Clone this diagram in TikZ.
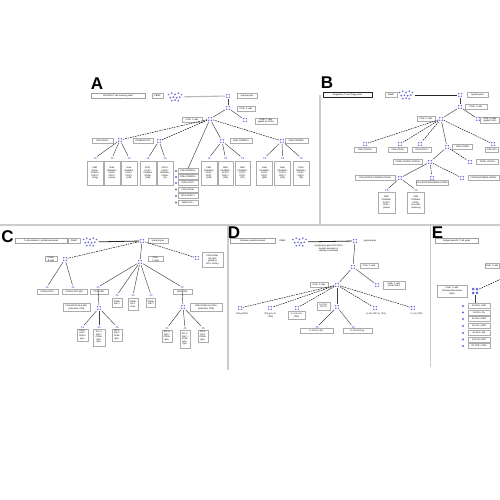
\documentclass[tikz,border=0pt]{standalone}
\usepackage{fontspec}
\setmainfont{Liberation Sans}
\definecolor{dotc}{RGB}{105,105,215}
\begin{document}
\begin{tikzpicture}[x=1pt,y=-1pt,
 lbl/.style={draw=gray!65, fill=white, line width=0.3pt, inner sep=0.4pt, font=\fontsize{2.2}{2.6}\selectfont, align=center, minimum height=4.8pt},
 plain/.style={inner sep=0.3pt, font=\fontsize{2.2}{2.6}\selectfont, align=center},
 tbox/.style={lbl, draw=gray!75, line width=0.35pt},
 tboxb/.style={lbl, draw=black!85, line width=0.5pt},
 cbox/.style={lbl, anchor=north},
 cellnode/.style={rectangle, minimum size=5.4pt, inner sep=0pt, path picture={\foreach \dx/\dy in {-1.3/-1.3,1.3/-1.3,-1.3/1.3,1.3/1.3} \fill[dotc] ([shift={(\dx,\dy)}]path picture bounding box.center) circle (0.8pt);}},
 minicell/.style={rectangle, minimum size=3.6pt, inner sep=0pt, path picture={\foreach \dx/\dy in {-0.85/0,0.85/0} \fill[dotc] ([shift={(\dx,\dy)}]path picture bounding box.center) circle (0.65pt);}},
 bigcell/.style={rectangle, minimum size=8pt, inner sep=0pt, path picture={\foreach \dx/\dy in {-1.9/-1.9,1.9/-1.9,-1.9/1.9,1.9/1.9} \fill[dotc] ([shift={(\dx,\dy)}]path picture bounding box.center) circle (1.5pt);}},
 listdot/.style={circle, fill=dotc, minimum size=2.4pt, inner sep=0pt},
 cluster/.style={rectangle, minimum width=17pt, minimum height=11pt, inner sep=0pt, path picture={\foreach \dx/\dy in {-6.5/-2.5,-3.3/-3.8,0/-2.6,3.3/-3.8,6.5/-2.5,-4.8/0.6,-1.6/0.2,1.6/0.8,4.8/0.2,-3.2/3.7,0/3.2,3.2/3.8} \fill[dotc] ([shift={(\dx,\dy)}]path picture bounding box.center) circle (0.95pt);}},
 link/.style={draw=black!75, line width=0.45pt},
 dlink/.style={draw=black, line width=0.45pt, dash pattern=on 1.6pt off 0.9pt},
 feedg/.style={draw=gray!55, line width=1.1pt},
 feedk/.style={draw=black!85, line width=0.8pt},
 panelline/.style={draw=gray!40, line width=1.2pt},
 letter/.style={font=\fontsize{17}{17}\bfseries\selectfont, inner sep=0pt}
]
\useasboundingbox (0,0) rectangle (500,500);
\fill[white] (0,0) rectangle (500,500);
% panel dividers
\draw[panelline] (0,225) -- (500,225);
\draw[panelline] (320,95) -- (320,225);
\draw[panelline] (228,225) -- (228,370);
\draw[panelline] (430.5,225) -- (430.5,367);

% ================= Panel A =================
\node[letter] (LA) at (97,84) {A};
\node[tbox, minimum width=54pt] (tA) at (118,96) {CD4/CD8 T cell memory panel};
\node[lbl, minimum width=11pt] (pA) at (157.5,96) {PBMC};
\node[cluster] (clA) at (175,97) {};
\node[cellnode] (a1) at (228,96) {};
\node[lbl, minimum width=20pt] (la1) at (247,96) {lymphocytes};
\node[cellnode] (a2) at (228,108) {};
\node[lbl, minimum width=18pt] (la2) at (246,108.5) {CD3+ T cells};
\node[cellnode] (a3) at (210,119) {};
\node[lbl, minimum width=20pt] (la3) at (192,119.5) {CD4+ T cells};
\node[cellnode] (a4) at (245,120) {};
\node[lbl, minimum width=22pt] (la4) at (266,121) {CD8+ T cells\\(gated as CD3+)};
\node[cellnode] (a5) at (120,140) {};
\node[lbl, minimum width=21pt] (la5) at (102.5,141) {CD4+CD25+};
\node[cellnode] (a6) at (159,141) {};
\node[lbl, minimum width=20pt] (la6) at (143,141) {CD45RA/CCR7};
\node[cellnode] (a7) at (222,141) {};
\node[lbl, minimum width=22pt] (la7) at (241,141) {CD4+CD45RO+};
\node[cellnode] (a8) at (282,141) {};
\node[lbl, minimum width=23pt] (la8) at (296.5,141) {CD8+CD45RO+};
\draw[feedg] (clA) -- (a1);
\draw[link] (a1) -- (a2);
\draw[link] (a2) -- (a3);
\draw[link] (a2) -- (a4);
\draw[dlink] (a3) -- (a5);
\draw[dlink] (a3) -- (a6);
\draw[link] (a3) -- (a7);
\draw[dlink] (a3) -- (a8);
% children of a5
\foreach \n/\x/\t in {a51/95/{FMO\\CD25+\\FOXP3+\\CD127-\\(Treg)}, a52/112/{Gate\\CD45RA+\\CCR7+\\CD27+\\(naive)}, a53/129/{Gate\\CD45RA-\\CCR7+\\CD27+\\(CM)}} {
  \node[minicell] (\n) at (\x,158) {};
  \node[cbox, minimum width=15.5pt, minimum height=24pt] (b\n) at (\x,161) {\t};
  \draw[link] (a5) -- (\n);
}
\foreach \n/\x/\t in {a61/148/{CD27-\\CCR7-\\CD45RA-\\CD28+\\(EM)}, a62/165/{CD27+\\CCR7+\\CD45RA+\\CD28+\\(N)}} {
  \node[minicell] (\n) at (\x,158) {};
  \node[cbox, minimum width=15.5pt, minimum height=24pt] (b\n) at (\x,161) {\t};
  \draw[link] (a6) -- (\n);
}
\foreach \n/\x/\t in {a71/209/{FMO\\CD45RO+\\CCR7-\\CD27-\\(EM)}, a72/225.5/{FMO\\CD45RO+\\CCR7+\\CD27+\\(CM)}, a73/242.5/{FMO\\CD45RA+\\CCR7-\\CD27-\\(TE)}} {
  \node[minicell] (\n) at (\x,158) {};
  \node[cbox, minimum width=15.5pt, minimum height=24pt] (b\n) at (\x,161) {\t};
  \draw[link] (a7) -- (\n);
}
\foreach \n/\x/\t in {a81/264.5/{Gate\\CD45RO+\\CCR7-\\CD27-\\(EM)}, a82/282.5/{Gate\\CD45RO+\\CCR7+\\CD27+\\(CM)}, a83/301/{CD8+\\CD45RA+\\CCR7-\\CD57+\\(TE)}} {
  \node[minicell] (\n) at (\x,158) {};
  \node[cbox, minimum width=16pt, minimum height=24pt] (b\n) at (\x,161) {\t};
  \draw[link] (a8) -- (\n);
}
% list
\foreach \i/\y/\t in {1/171/CD8+CD45RA+, 2/177/CD8+CD45RO+, 3/183/CD8+CCR7+, 4/189.5/CD4+CD28+, 5/196/CD4+CD127+, 6/202.5/CD8+PD-1+} {
  \node[listdot] (ad\i) at (176,\y) {};
  \node[lbl, minimum width=20pt] (al\i) at (188,\y) {\t};
}
\draw[link] (a3) -- (al1.north);

% ================= Panel B =================
\node[letter] (LB) at (327,83) {B};
\node[tboxb, minimum width=49pt] (tB) at (347.5,95) {Regulatory T cell (Treg) panel};
\node[lbl, minimum width=12pt] (pB) at (391,95) {PBMC};
\node[cluster] (clB) at (406,95) {};
\node[cellnode] (b1) at (460,95) {};
\node[lbl, minimum width=21pt] (lb1) at (477.5,95) {lymphocytes};
\node[cellnode] (b2) at (460,107) {};
\node[lbl, minimum width=22pt] (lb2) at (476,107) {CD3+ T cells};
\node[cellnode] (b3) at (441,119) {};
\node[lbl, minimum width=18pt] (lb3) at (426,119) {CD4+ T cells};
\node[cellnode] (b4) at (478,119) {};
\node[lbl, minimum width=19pt] (lb4) at (490,120) {CD8+ T cells\\(gated CD4-)};
\node[cellnode] (b5) at (365,144) {};
\node[lbl, minimum width=22pt] (lb5) at (365,150) {CD4+FOXP3+};
\node[cellnode] (b6) at (400,144) {};
\node[lbl, minimum width=19pt] (lb6) at (398,150) {CD4+CD25+};
\node[cellnode] (b7) at (420,144) {};
\node[lbl, minimum width=19pt] (lb7) at (422,150) {CD4+CD127-};
\node[cellnode] (b8) at (447,147) {};
\node[lbl, minimum width=20pt] (lb8) at (462.5,146.5) {CD4+CD25hi};
\node[cellnode] (b9) at (493,144) {};
\node[lbl, minimum width=13pt] (lb9) at (492,150) {CD4+DR+};
\node[cellnode] (b10) at (430,162) {};
\node[lbl, minimum width=29pt] (lb10) at (408,162) {CD25+CD127lo FOXP3+};
\node[cellnode] (b11) at (470,162) {};
\node[lbl, minimum width=22pt] (lb11) at (487.5,162) {CD25+ FOXP3-};
\node[cellnode] (b12) at (400,178) {};
\node[lbl, minimum width=40pt] (lb12) at (375,178) {CD4+FOXP3+CD45RA+CD25lo};
\node[cellnode] (b13) at (432,178) {};
\node[lbl, minimum width=31pt] (lb13) at (432,183) {CD4+FOXP3hiCD45RA-CD25hi};
\node[cellnode] (b14) at (462,178) {};
\node[lbl, minimum width=31pt] (lb14) at (483.5,178) {FOXP3loCD45RA-CD25lo};
\node[minicell] (b15) at (386.5,190) {};
\node[cbox, minimum width=17pt, minimum height=21pt] (lb15) at (386.5,192) {FMO\\CD45RA+\\CCR7+\\CD31+\\(naive)};
\node[minicell] (b16) at (416,190) {};
\node[cbox, minimum width=17pt, minimum height=21pt] (lb16) at (416,192) {FMO\\CD45RA-\\CCR7+\\HLA-DR+\\(memory)};
\draw[feedk] (clB) -- (b1);
\draw[link] (b1) -- (b2);
\draw[link] (b2) -- (b3);
\draw[link] (b2) -- (b4);
\draw[dlink] (b3) -- (b5);
\draw[dlink] (b3) -- (b6);
\draw[dlink] (b3) -- (b7);
\draw[link] (b3) -- (b8);
\draw[dlink] (b3) -- (b9);
\draw[link] (b8) -- (b10);
\draw[dlink] (b8) -- (b11);
\draw[link] (b10) -- (b12);
\draw[dlink] (b10) -- (b13);
\draw[dlink] (b10) -- (b14);
\draw[link] (b12) -- (b15);
\draw[link] (b12) -- (b16);

% ================= Panel C =================
\node[letter] (LC) at (7.5,236.5) {C};
\node[tbox, minimum width=52pt] (tC) at (41,240.5) {T cell activation / proliferation panel};
\node[lbl, minimum width=12pt] (pC) at (74,240.5) {PBMC};
\node[cluster] (clC) at (90,242) {};
\node[cellnode] (c1) at (142,241) {};
\node[lbl, minimum width=20pt] (lc1) at (158,241) {lymphocytes};
\node[cellnode] (c2) at (65,259) {};
\node[lbl, minimum width=12pt] (lc2) at (51,259) {CD19+\\B cells};
\node[cellnode] (c3) at (140,262) {};
\node[lbl, minimum width=15pt] (lc3) at (155.5,259) {CD3+\\T cells};
\node[cellnode] (c4) at (197,258) {};
\node[lbl, minimum width=21pt, minimum height=15pt] (lc4) at (212.5,260) {CD3-CD56+\\NK cells\\(gated on\\CD3- CD19-)};
\node[minicell] (c5) at (47,287) {};
\node[lbl, minimum width=21pt] (lc5) at (47.5,291.5) {CD19+CD27+};
\node[minicell] (c6) at (73,287) {};
\node[lbl, minimum width=25pt] (lc6) at (74.5,291.5) {CD19+CD27-IgD+};
\node[minicell] (c7) at (98,287) {};
\node[lbl, minimum width=18pt] (lc7) at (99,291.5) {CD4+CD8-};
\node[minicell] (c8) at (117,295) {};
\node[cbox, minimum width=10pt, minimum height=9pt] (lc8) at (117,298) {CD38+\\Ki67+};
\node[minicell] (c9) at (133,295) {};
\node[cbox, minimum width=10pt, minimum height=12pt] (lc9) at (133,298) {CD38+\\Ki67-\\HLA+};
\node[minicell] (c10) at (151,295) {};
\node[cbox, minimum width=9pt, minimum height=9pt] (lc10) at (151,298) {CD69+\\Ki67+};
\node[minicell] (c11) at (182,287) {};
\node[lbl, minimum width=19pt] (lc11) at (182.5,292) {CD8+CD4-};
\node[cellnode] (c12) at (99,308) {};
\node[lbl, minimum width=27pt, minimum height=8pt] (lc12) at (76.5,307.5) {CD4+CD38+HLA-DR+\\(activated, CD4)};
\node[minicell] (c13) at (82.5,327) {};
\node[cbox, minimum width=11pt, minimum height=12pt] (lc13) at (82.5,328.5) {PD-1+\\Ki67+\\CD25+\\IgG+};
\node[minicell] (c14) at (99,327) {};
\node[cbox, minimum width=12pt, minimum height=17pt] (lc14) at (99,328.5) {PD-1+\\Ki67+\\CD25+\\IgG+\\IgA+};
\node[minicell] (c15) at (117,327) {};
\node[cbox, minimum width=10pt, minimum height=12pt] (lc15) at (117,328.5) {PD-1-\\Ki67+\\CD25-\\IgG+};
\node[cellnode] (c16) at (183,307) {};
\node[lbl, minimum width=32pt, minimum height=8pt] (lc16) at (206,307.5) {CD8+CD38+HLA-DR+\\(activated, CD8)};
\node[minicell] (c17) at (167,328) {};
\node[cbox, minimum width=10pt, minimum height=12pt] (lc17) at (167,330) {PD-1+\\Ki67+\\CD25+\\IgG+};
\node[minicell] (c18) at (185,328) {};
\node[cbox, minimum width=10pt, minimum height=18pt] (lc18) at (185,330) {PD-1+\\Ki67+\\CD25-\\IgG+\\IgA+};
\node[minicell] (c19) at (203,328) {};
\node[cbox, minimum width=10pt, minimum height=12pt] (lc19) at (203,330) {PD-1-\\Ki67-\\CD25+\\IgG+};
\draw[feedk] (clC) -- (c1);
\draw[dlink] (c1) -- (c2);
\draw[link] (c1) -- (c3);
\draw[dlink] (c1) -- (c4);
\draw[link] (c2) -- (c5);
\draw[link] (c2) -- (c6);
\draw[link] (c3) -- (c7);
\draw[link] (c3) -- (c8);
\draw[link] (c3) -- (c9);
\draw[link] (c3) -- (c10);
\draw[link] (c3) -- (c11);
\draw[link] (c7) -- (c12);
\draw[link] (c12) -- (c13);
\draw[link] (c12) -- (c14);
\draw[link] (c12) -- (c15);
\draw[link] (c11) -- (c16);
\draw[link] (c16) -- (c17);
\draw[link] (c16) -- (c18);
\draw[link] (c16) -- (c19);

% ================= Panel D =================
\node[letter] (LD) at (234,233) {D};
\node[tbox, minimum width=45pt] (tD) at (252.5,241) {Cytokine production panel};
\node[plain] (pD) at (282.5,241) {PBMC};
\node[cluster] (clD) at (299.5,242) {};
\node[cellnode] (d1) at (355,241) {};
\node[lbl, draw=none, minimum width=17pt] (ld1) at (370,241) {lymphocytes};
\node[plain] (dtx) at (328.5,248.5) {Lymphocyte gate (FSC/SSC)\\doublet exclusion \&\\viability (Live/Dead)};
\node[cellnode] (d2) at (353,267) {};
\node[lbl, minimum width=18pt] (ld2) at (369,266) {CD3+ T cells};
\node[cellnode] (d3) at (337,285) {};
\node[lbl, minimum width=18pt] (ld3) at (319,284.5) {CD4+ T cells};
\node[cellnode] (d4) at (377,285) {};
\node[lbl, minimum width=22pt, minimum height=8pt] (ld4) at (394,285) {CD8+ T cells\\(CD4-CD8+)};
\node[cellnode] (d5) at (240,308) {};
\node[plain, minimum width=19pt] (ld5) at (242.5,313.5) {IFN-g+TNF+};
\node[cellnode] (d6) at (270,308) {};
\node[plain, minimum width=15pt] (ld6) at (270.5,315.5) {IFN-g+IL-2+\\(Th1)};
\node[cellnode] (d7) at (297,308) {};
\node[lbl, minimum width=17pt, minimum height=8pt] (ld7) at (296.5,315.5) {IL-4+IL-13+\\(Th2)};
\node[cellnode] (d8) at (337,307) {};
\node[lbl, minimum width=13pt, minimum height=8pt] (ld8) at (323.5,306) {IL-17A+\\(Th17)};
\node[cellnode] (d9) at (375,308) {};
\node[plain, minimum width=32pt] (ld9) at (376,313.5) {IL-10+TGF-b+ (Tr1)};
\node[cellnode] (d10) at (413,308) {};
\node[plain, minimum width=23pt] (ld10) at (416.5,313.5) {IL-21+ (Tfh)};
\node[minicell] (d11) at (317,327) {};
\node[lbl, minimum width=33pt] (ld11) at (316.5,331) {IL-17A+IL-22+};
\node[minicell] (d12) at (353,327) {};
\node[lbl, minimum width=29pt] (ld12) at (357.5,331) {IL-17A+IFN-g+};
\draw[feedk] (clD) -- (d1);
\draw[link] (d1) -- (d2);
\draw[link] (d2) -- (d3);
\draw[link] (d2) -- (d4);
\draw[dlink] (d3) -- (d5);
\draw[dlink] (d3) -- (d6);
\draw[dlink] (d3) -- (d7);
\draw[link] (d3) -- (d8);
\draw[dlink] (d3) -- (d9);
\draw[dlink] (d3) -- (d10);
\draw[link] (d8) -- (d11);
\draw[link] (d8) -- (d12);

% ================= Panel E =================
\node[letter] (LE) at (437.5,233) {E};
\node[tbox, minimum width=43pt] (tE) at (456.5,241) {Antigen-specific T cell panel};
\node[lbl, minimum width=14pt] (le0) at (492,266) {CD8+ T cells};
\coordinate (e0) at (501,279);
\node[bigcell] (e1) at (475,291) {};
\node[lbl, minimum width=30pt, minimum height=12pt] (le1) at (452,291) {CD8+ T cells\\(Tetramer/Dextramer\\stain)};
\foreach \i/\y/\t in {1/306/{A2-NLV+ CMV}, 2/312.5/{A2-GIL+ Flu}, 3/319/{A2-GLC+ EBV}, 4/326/{A2-YVL+ EBV}, 5/333/{A2-ELA+ MA}, 6/339.5/{A2-FLR+ EBV}, 7/346/{B7-TPR+ CMV}} {
  \node[listdot] (ed\i) at (463,\y) {};
  \node[lbl, minimum width=22pt] (el\i) at (479,\y) {\t};
}
\draw[dlink] (e0) -- (e1);
\draw[link] (e1) -- (el1.north -| e1);
\end{tikzpicture}
\end{document}
